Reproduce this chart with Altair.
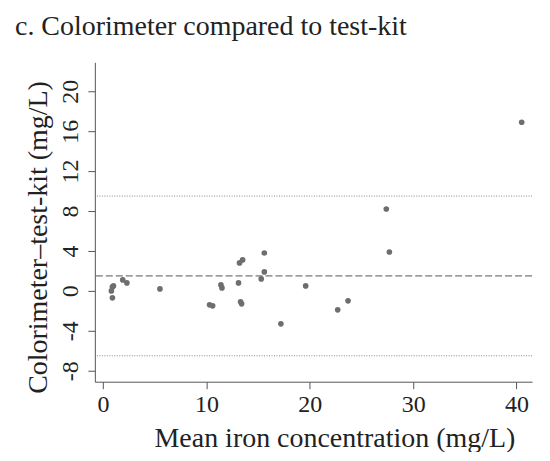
import altair as alt
import pandas as pd

x_mean = [0.8, 0.9, 1.0, 0.9, 1.9, 2.3, 5.5, 10.3, 10.6, 11.4, 11.5, 13.1, 13.2,
          13.5, 13.3, 13.4, 15.3, 15.6, 15.6, 17.2, 19.6, 22.7, 23.7, 27.4, 27.7, 40.5]
y_diff = [0.0, 0.4, 0.5, -0.7, 1.1, 0.8, 0.2, -1.4, -1.5, 0.6, 0.3, 0.8, 2.8,
          3.1, -1.1, -1.3, 1.2, 3.8, 1.9, -3.3, 0.5, -1.9, -1.0, 8.2, 3.9, 16.9]

mean_diff = [1.5]
limits = [9.5, -6.5]

x_ticks = [0, 10, 20, 30, 40]
y_ticks = [-8, -4, 0, 4, 8, 12, 16, 20]

FONT = "Liberation Serif"

pts = pd.DataFrame({"m": x_mean, "d": y_diff})
mean_df = pd.DataFrame({"v": mean_diff})
lim_df = pd.DataFrame({"v": limits})

xscale = alt.Scale(domain=[-0.8, 41.5], nice=False, zero=False)
yscale = alt.Scale(domain=[-9.1, 22.9], nice=False, zero=False)

points = alt.Chart(pts).mark_circle(size=32, color="#6e6e6e", opacity=1).encode(
    x=alt.X("m:Q", scale=xscale,
            axis=alt.Axis(title="Mean iron concentration (mg/L)", values=x_ticks,
                          grid=False, labelPadding=4, titlePadding=8,
                          labelFont=FONT, titleFont=FONT, labelFontSize=24, titleFontSize=28,
                          labelExpr="'' + datum.value",
                          titleX=240, titleAlign="center")),
    y=alt.Y("d:Q", scale=yscale,
            axis=alt.Axis(title="Colorimeter\u2013test-kit (mg/L)", values=y_ticks,
                          grid=False, labelAngle=270, labelAlign="center",
                          labelBaseline="bottom", labelPadding=5, titlePadding=6,
                          labelFont=FONT, titleFont=FONT, labelFontSize=24, titleFontSize=28,
                          labelExpr="'' + datum.value",
                          titleY=175, titleAlign="center")),
)

mean_rule = alt.Chart(mean_df).mark_rule(color="#555555", strokeWidth=1,
                                         strokeDash=[7, 3]).encode(y=alt.Y("v:Q", scale=yscale))
lim_rule = alt.Chart(lim_df).mark_rule(color="#888888", strokeWidth=1,
                                       strokeDash=[1, 1.5]).encode(y=alt.Y("v:Q", scale=yscale))

chart = alt.layer(lim_rule, mean_rule, points).properties(
    width=438, height=320,
    autosize=alt.AutoSizeParams(type="none"),
    padding={"left": 87, "top": 54, "right": 10, "bottom": 70},
    title=alt.TitleParams("c. Colorimeter compared to test-kit", anchor="start",
                          frame="group", dx=-80, offset=21, font=FONT,
                          fontSize=28, fontWeight="normal", color="#222222"),
).configure_view(stroke=None).configure_axis(
    domainColor="#555555", tickColor="#555555", tickSize=7,
    labelColor="#222222", titleColor="#222222", titleFontWeight="normal",
)

chart.save("out.html", embed_options={"renderer": "svg", "actions": False})
